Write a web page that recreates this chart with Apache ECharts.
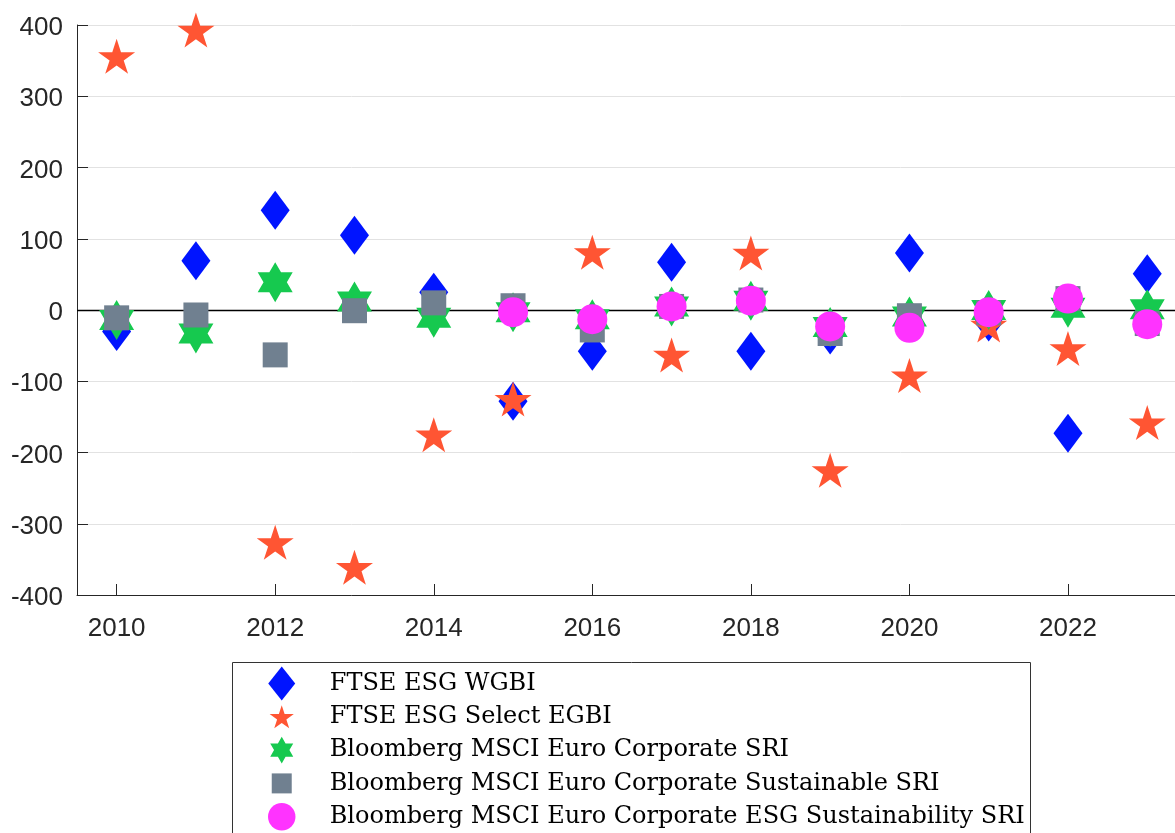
<!DOCTYPE html>
<html>
<head>
<meta charset="utf-8">
<script src="https://cdn.jsdelivr.net/npm/echarts@6/dist/echarts.min.js"></script>
<style>html,body{margin:0;padding:0;background:#fff;}#chart{width:1175px;height:833px;}</style>
</head>
<body>
<div id="chart"></div>
<script>
// ---- data ----
const years = [2010, 2011, 2012, 2013, 2014, 2015, 2016, 2017, 2018, 2019, 2020, 2021, 2022, 2023];
const xTickLabels = [2010, 2012, 2014, 2016, 2018, 2020, 2022];
const yTickValues = [-400, -300, -200, -100, 0, 100, 200, 300, 400];
const seriesNames = [
  'FTSE ESG WGBI',
  'FTSE ESG Select EGBI',
  'Bloomberg MSCI Euro Corporate SRI',
  'Bloomberg MSCI Euro Corporate Sustainable SRI',
  'Bloomberg MSCI Euro Corporate ESG Sustainability SRI'
];
const ftseWgbi = [-30, 69, 140, 105, 25, -128, -58, 67, -58, -35, 80, -17, -173, 51];
const ftseSelectEgbi = [356, 393, -326, -361, -175, -125, 81, -63, 80, -225, -92, -21, -54, -158];
const bbgCorpSri = [-14, -33, 39, 12, -11, -3, -13, 5, 13, -24, -9, 0, 3, 1];
const bbgCorpSustSri = [-11, -7, -63, -1, 10, 6, -28, 5, 14, -33, -8, -4, 16, -19];
const bbgCorpEsgSustSri = [null, null, null, null, null, -3, -13, 5, 13, -23, -25, -3, 16, -20];

// ---- shapes ----
function starPath(cx, cy, R, r, n) {
  let d = '';
  for (let i = 0; i < 2 * n; i++) {
    const a = (-90 + i * 180 / n) * Math.PI / 180;
    const rad = i % 2 === 0 ? R : r;
    d += (i === 0 ? 'M' : 'L') + (cx + rad * Math.cos(a)).toFixed(2) + ' ' + (cy + rad * Math.sin(a)).toFixed(2) + ' ';
  }
  return d + 'Z';
}
const pentagram = 'path://' + starPath(50, 50, 50, 19.1, 5);
const hexagram = 'path://' + starPath(50, 50, 50, 28.87, 6);
const pad = 'M50 0 M50 100 ';
const legendIcons = [
  'path://M50 0 L89.7 50 L50 100 L10.3 50 Z',
  'path://' + pad + starPath(50, 53.6, 37.4, 14.3, 5),
  'path://' + pad + starPath(50, 50, 39.1, 22.6, 6),
  'path://' + pad + 'M20.6 20.6 L79.4 20.6 L79.4 79.4 L20.6 79.4 Z',
  'path://' + pad + 'M9.6 50 A40.4 40.4 0 1 1 90.4 50 A40.4 40.4 0 1 1 9.6 50 Z'
];
const colors = ['#0014ff', '#ff5533', '#16c94f', '#708090', '#ff33ff'];
const symbols = ['diamond', pentagram, hexagram, 'rect', 'circle'];
const sizes = [[29, 39], [37, 35], [35, 40], [25, 25], 30];
const values = [ftseWgbi, ftseSelectEgbi, bbgCorpSri, bbgCorpSustSri, bbgCorpEsgSustSri];

const axisColor = '#262626';
const labelFont = { fontFamily: 'Liberation Sans', fontSize: 26, color: axisColor };

const series = seriesNames.map((name, i) => {
  const s = {
    name: name,
    type: 'scatter',
    symbol: symbols[i],
    symbolSize: sizes[i],
    itemStyle: { color: colors[i], opacity: 1 },
    emphasis: { disabled: true },
    data: years.map((y, j) => values[i][j] == null ? null : [y, values[i][j]]).filter(d => d)
  };
  if (i === 0) {
    s.markLine = {
      z: 1, silent: true, symbol: 'none', animation: false,
      label: { show: false },
      lineStyle: { color: '#000', width: 1.3, type: 'solid' },
      emphasis: { disabled: true },
      data: [{ yAxis: 0 }]
    };
  }
  return s;
});

const chart = echarts.init(document.getElementById('chart'), null, { renderer: 'canvas' });
chart.setOption({
  animation: false,
  backgroundColor: '#fff',
  grid: { left: 77, right: 0, top: 25, bottom: 238, containLabel: false },
  xAxis: {
    type: 'value', min: 2009.5, max: 2023.35,
    axisLine: { show: true, onZero: false, lineStyle: { color: axisColor, width: 1 } },
    axisTick: { show: true, inside: true, length: 11, customValues: xTickLabels, lineStyle: { color: axisColor } },
    axisLabel: Object.assign({ customValues: xTickLabels, margin: 21, formatter: v => String(v) }, labelFont),
    splitLine: { show: false }
  },
  yAxis: {
    type: 'value', min: -400, max: 400, interval: 100,
    axisLine: { show: true, lineStyle: { color: axisColor, width: 1 } },
    axisTick: { show: true, inside: true, length: 11, lineStyle: { color: axisColor } },
    axisLabel: Object.assign({
      margin: 14,
      formatter: v => '{a|' + v + '}',
      rich: { a: Object.assign({ padding: [6, 0, 0, 0] }, labelFont) }
    }, labelFont),
    splitLine: { show: true, lineStyle: { color: '#e2e2e2', width: 1 } }
  },
  legend: {
    orient: 'vertical', left: 268, top: 666.5, height: 300, padding: 0,
    itemWidth: 86, itemHeight: 34, itemGap: -0.7,
    selectedMode: false,
    textStyle: { fontFamily: 'DejaVu Serif', fontSize: 24, color: '#000' },
    data: seriesNames.map((n, i) => ({ name: n, icon: legendIcons[i], itemStyle: { color: colors[i] } }))
  },
  graphic: [{
    type: 'rect', z: 0, silent: true,
    shape: { x: 232.5, y: 662.5, width: 798, height: 200 },
    style: { fill: '#fff', stroke: '#333', lineWidth: 1 }
  }],
  series: series
});
</script>
</body>
</html>
